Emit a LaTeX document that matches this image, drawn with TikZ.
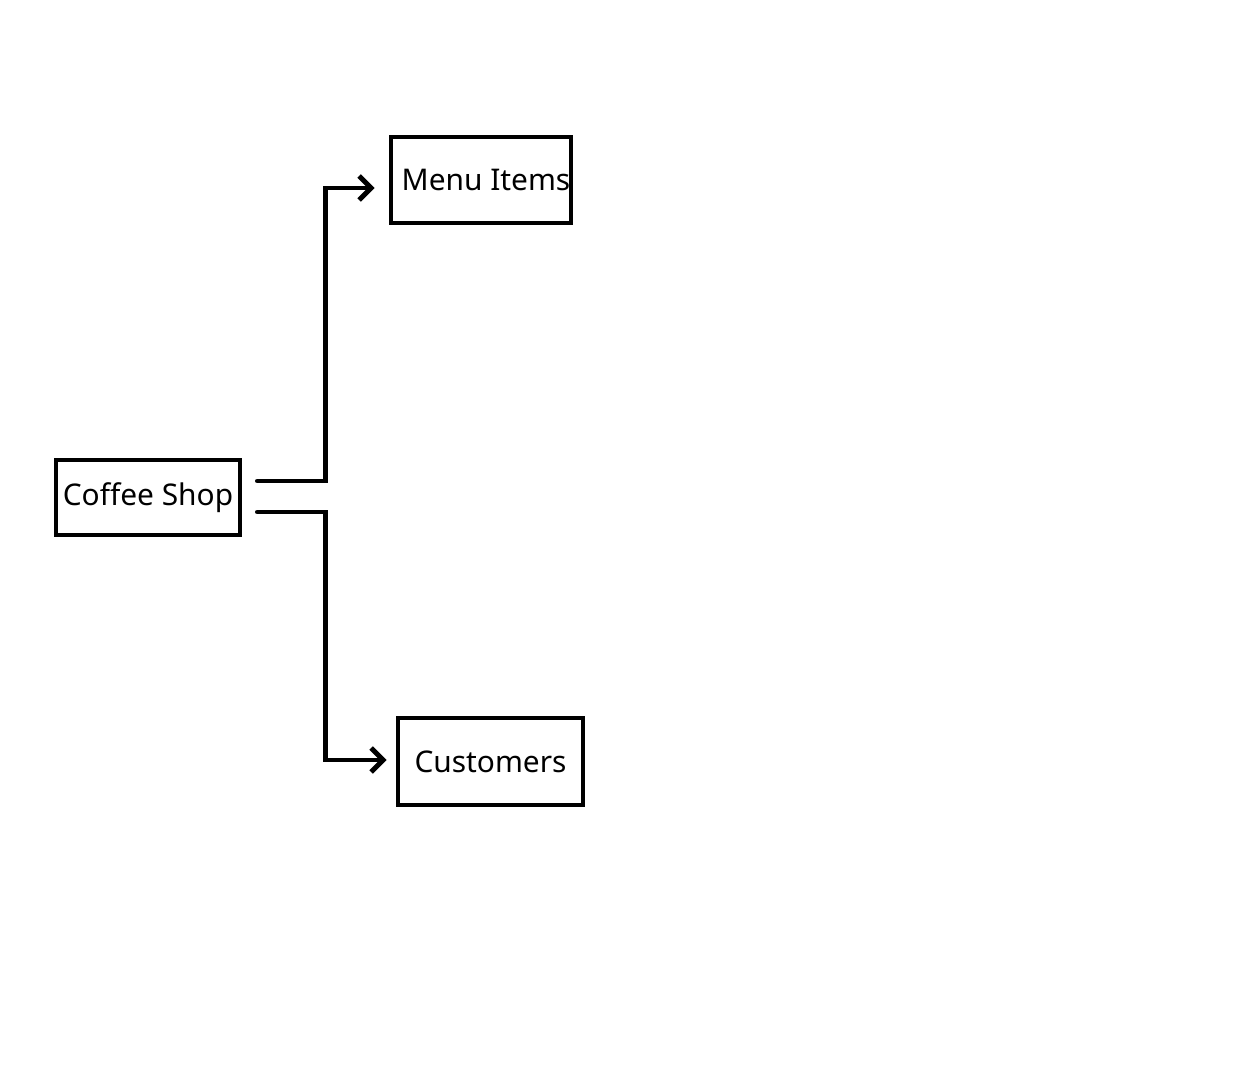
\documentclass[tikz,border=0pt]{standalone}
\usepackage{fontspec}
\setmainfont{Noto Sans}
\usetikzlibrary{arrows.meta}
\begin{document}
\begin{tikzpicture}[
    box/.style={draw, line width=1.4pt, inner sep=0pt, font=\fontsize{8.5pt}{10pt}\selectfont},
    link/.style={line width=1.4pt, line cap=round, -{Straight Barb[length=1.2mm, width=2.4mm, line width=1.4pt]}}
]
    \useasboundingbox (0,0) rectangle (12.48,10.8);

    % Boxes
    \node[box, minimum width=1.84cm, minimum height=0.75cm] (coffee) at (1.48,5.825) {Coffee Shop};
    \node[box, minimum width=1.80cm, minimum height=0.86cm] (menu) at (4.81,9.00) {\hspace*{0.1cm}Menu Items};
    \node[box, minimum width=1.85cm, minimum height=0.87cm] (customers) at (4.905,3.185) {Customers};

    % Split points next to the coffee shop
    \coordinate (upper) at ([xshift=0.15cm, yshift=0.165cm]coffee.east);
    \coordinate (lower) at ([xshift=0.15cm, yshift=-0.145cm]coffee.east);

    % Connectors
    \draw[link, shorten >=0.14cm] (upper) -- ++(0.68,0) |- ([yshift=-0.08cm]menu.west);
    \draw[link, shorten >=0.09cm] (lower) -- ++(0.68,0) |- ([yshift=0.015cm]customers.west);
\end{tikzpicture}
\end{document}
